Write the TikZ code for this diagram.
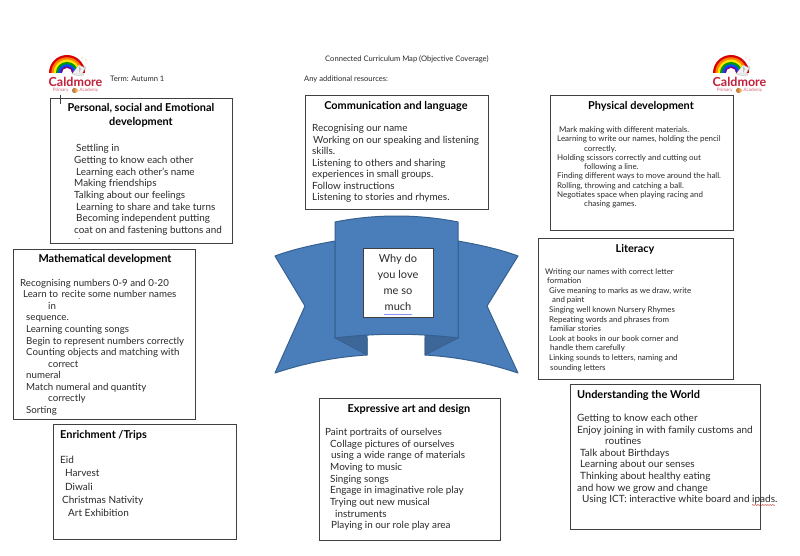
\documentclass[tikz,border=0pt]{standalone}
\usepackage{fontspec}
\setmainfont{Lato}
\usetikzlibrary{decorations.pathmorphing}
\definecolor{ribbon}{HTML}{4A7EBB}
\definecolor{ribbonedge}{HTML}{35608F}
\definecolor{ribbondark}{HTML}{3C6798}
\definecolor{boxedge}{HTML}{404040}
\definecolor{inkc}{HTML}{2A2A2A}
\definecolor{logored}{HTML}{C0203A}
\tikzset{
  x=1pt,y=-1pt,
  cbox/.style={draw=boxedge,line width=0.9pt,fill=white},
  head/.style={font=\fontsize{10.9}{14.5}\selectfont\bfseries,text=black,anchor=center,align=center,inner sep=0pt},
  body/.style={text=inkc,anchor=north west,align=left,inner sep=0pt},
  small/.style={font=\fontsize{7.6}{9}\selectfont,text=inkc,anchor=west,inner sep=0pt},
  rib/.style={fill=ribbon,draw=ribbonedge,line width=1pt,line join=round},
  ribd/.style={fill=ribbondark,draw=ribbonedge,line width=0.8pt,line join=round},
  logotext/.style={font=\fontsize{12.5}{13}\selectfont\bfseries,text=logored,inner sep=0pt},
  logosub/.style={font=\fontsize{4.6}{5}\selectfont,text=logored!70,inner sep=0pt},
}
\newcommand{\ind}[1]{\hspace*{#1pt}}
\newcommand{\rainbowlogo}[3]{%
  \begin{scope}[shift={(#1,#2)}]
    \fill[black!6,draw=black!30,line width=0.3pt] (3,-1) -- (12,-10) -- (19,-6) -- (16,3) -- (8,2) -- cycle;
    \foreach \r/\c in {18/red!85!black,15.7/orange,13.4/yellow!90!orange,11.1/green!60!black,8.8/blue!70!cyan,6.5/violet}{
      \fill[\c] (-\r,0) arc[start angle=180,end angle=0,x radius=\r,y radius=-\r] -- cycle;
    }
    \fill[white] (-5,0) arc[start angle=180,end angle=0,x radius=5,y radius=-5] -- cycle;
    \fill[black!6,draw=black!30,line width=0.3pt] (5,1) -- (12,-8) -- (18,-5) -- (15,1) -- cycle;
    \fill[black!25] (12,-7) -- (14,-4) -- (12,0) -- cycle;
    \fill[orange!70] (15,-15) circle (0.7) (19,-13) circle (0.6);
    \fill[blue!50] (12,-13) circle (0.6);
    \node[logotext] (#3t) at (8.5,9) {Caldmore};
    \node[logosub] (#3s) at (8.5,17.5) {Primary \ind{10}Academy};
    \fill[brown] (7.5,17.5) circle (2.6);
    \fill[orange!70] (9.5,17.5) circle (1.8);
  \end{scope}}
\begin{document}
\begin{tikzpicture}
\useasboundingbox (0,0) rectangle (800,556);
\fill[white] (0,0) rectangle (800,556);

% logos
\rainbowlogo{67}{73}{la}
\rainbowlogo{731}{73}{lb}

% header texts
\node[small] (term) at (110,79) {Term: Autumn 1};
\node[small] (title) at (325,59) {Connected Curriculum Map (Objective Coverage)};
\node[small] (res) at (304,79) {Any additional resources:};

% ribbon
\path[rib] (335,241) .. controls (313,245) and (294,249) .. (275,256) -- (305,306) -- (275,373)
  .. controls (305,363) and (335,357) .. (367,355) -- (367,338) -- (335,338) -- cycle;
\path[rib] (458,241) .. controls (480,245) and (499,249) .. (518,256) -- (487,306) -- (518,373)
  .. controls (488,363) and (458,357) .. (425,355) -- (425,338) -- (458,338) -- cycle;
\path[ribd] (335,338) .. controls (345,336) and (356,335) .. (367,335) -- (367,355) -- cycle;
\path[ribd] (458,338) .. controls (448,336) and (437,335) .. (425,335) -- (425,355) -- cycle;
\path[rib] (335,222) .. controls (375,214) and (418,214) .. (458,222) -- (458,338)
  .. controls (418,333) and (375,333) .. (335,338) -- cycle;

% centre
\node[cbox,minimum width=70pt,minimum height=69pt,inner sep=0pt,line width=0.8pt,font=\fontsize{11}{16.3}\selectfont,text=inkc,align=center] (why) at (398,282.5)
  {Why do\\you love\\me so\\much};
\draw[blue!60,line width=0.5pt,decorate,decoration={snake,amplitude=0.35pt,segment length=2.5pt}] (384,314.5) -- (412,314.5);

% boxes
\node[cbox,minimum width=182pt,minimum height=145pt] (pse) at (141,170.5) {};
\draw[boxedge,line width=0.8pt] (60,95) -- (60,104);
\fill[inkc] (79,238.5) circle (0.5);
\node[cbox,minimum width=182pt,minimum height=170pt] (math) at (104.5,334) {};
\node[cbox,minimum width=183pt,minimum height=114pt] (comm) at (396.5,152) {};
\node[cbox,minimum width=183pt,minimum height=135pt] (phys) at (641.5,163) {};
\node[cbox,minimum width=195pt,minimum height=141pt] (lit) at (635.5,308.5) {};
\node[cbox,minimum width=190pt,minimum height=145pt] (uw) at (665,456.5) {};
\node[cbox,minimum width=181pt,minimum height=142pt] (exp) at (409.5,469) {};
\node[cbox,minimum width=183pt,minimum height=115pt] (enr) at (144.5,481.5) {};

% headings
\node[head] (h1) at (141,115.5) {Personal, social and Emotional\\development};
\node[head] (h2) at (396,106) {Communication and language};
\node[head] (h3) at (641,106) {Physical development};
\node[head] (h4) at (635,249) {Literacy};
\node[head] (h5) at (105,259) {Mathematical development};
\node[head,anchor=west] (h6) at (577,395) {Understanding the World};
\node[head] (h7) at (409,409) {Expressive art and design};
\node[head,anchor=west] (h8) at (60,435) {Enrichment /Trips};

% bodies
\node[body,font=\fontsize{9.9}{11.65}\selectfont] (t1) at (74,144.5) {%
\ind{2}Settling in\\
Getting to know each other\\
\ind{2}Learning each other's name\\
Making friendships\\
Talking about our feelings\\
\ind{2}Learning to share and take turns\\
\ind{2}Becoming independent putting\\
coat on and fastening buttons and};
\node[body,font=\fontsize{9.9}{11.5}\selectfont] (t2) at (312,124.5) {%
Recognising our name\\
\ind{1}Working on our speaking and listening\\
skills.\\
Listening to others and sharing\\
experiences in small groups.\\
Follow instructions\\
Listening to stories and rhymes.};
\node[body,font=\fontsize{7.95}{9.25}\selectfont] (t3) at (557,126.5) {%
\ind{2}Mark making with different materials.\\
Learning to write our names, holding the pencil\\
\ind{27}correctly.\\
Holding scissors correctly and cutting out\\
\ind{27}following a line.\\
Finding different ways to move around the hall.\\
Rolling, throwing and catching a ball.\\
Negotiates space when playing racing and\\
\ind{27}chasing games.};
\node[body,font=\fontsize{7.9}{9.6}\selectfont] (t4) at (545,268) {%
Writing our names with correct letter\\
\ind{2}formation\\
\ind{4}Give meaning to marks as we draw, write\\
\ind{7}and paint\\
\ind{4}Singing well known Nursery Rhymes\\
\ind{4}Repeating words and phrases from\\
\ind{5}familiar stories\\
\ind{4}Look at books in our book corner and\\
\ind{5}handle them carefully\\
\ind{4}Linking sounds to letters, naming and\\
\ind{5}sounding letters};
\node[body,font=\fontsize{9.7}{11.55}\selectfont] (t5) at (20,279) {%
Recognising numbers 0-9 and 0-20\\
\ind{3}Learn to \ind{1}recite some number names\\
\ind{28}in\\
\ind{6}sequence.\\
\ind{6}Learning counting songs\\
\ind{6}Begin to represent numbers correctly\\
\ind{6}Counting objects and matching with\\
\ind{28}correct\\
\ind{6}numeral\\
\ind{6}Match numeral and quantity\\
\ind{28}correctly\\
\ind{6}Sorting};
\node[body,font=\fontsize{10}{11.6}\selectfont] (t6) at (577,414) {%
Getting to know each other\\
Enjoy joining in with family customs and\\
\ind{28}routines\\
\ind{3}Talk about Birthdays\\
\ind{3}Learning about our senses\\
\ind{3}Thinking about healthy eating\\
and how we grow and change\\
\ind{5}Using ICT: interactive white board and ipads.};
\draw[red!70!black,line width=0.4pt,decorate,decoration={snake,amplitude=0.35pt,segment length=2.5pt}] (752,505) -- (775,505);
\node[body,font=\fontsize{9.9}{11.65}\selectfont] (t7) at (325,428) {%
Paint portraits of ourselves\\
\ind{5}Collage pictures of ourselves\\
\ind{6}using a wide range of materials\\
\ind{5}Moving to music\\
\ind{5}Singing songs\\
\ind{5}Engage in imaginative role play\\
\ind{5}Trying out new musical\\
\ind{10}instruments\\
\ind{6}Playing in our role play area};
\node[body,font=\fontsize{10}{13.3}\selectfont] (t8) at (60,456) {%
Eid\\
\ind{5}Harvest\\
\ind{5}Diwali\\
\ind{2}Christmas Nativity\\
\ind{8}Art Exhibition};
\end{tikzpicture}
\end{document}
